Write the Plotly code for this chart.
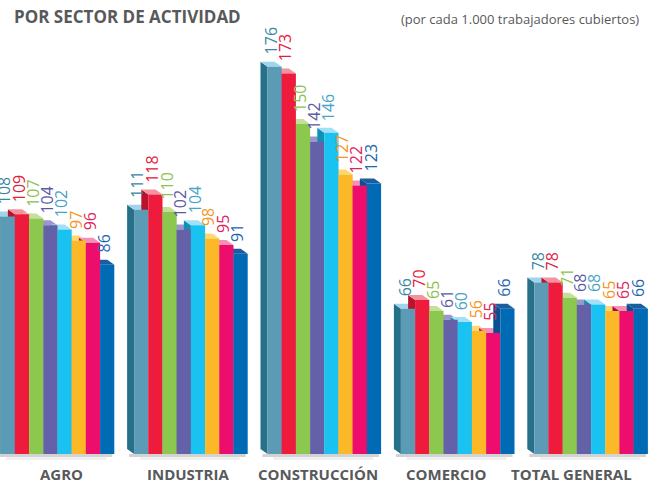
import plotly.graph_objects as go

# ---------------- data ----------------
categories = ["AGRO", "INDUSTRIA", "CONSTRUCCIÓN", "COMERCIO", "TOTAL GENERAL"]
serie_1 = [108, 111, 176, 66, 78]
serie_2 = [109, 118, 173, 70, 78]
serie_3 = [107, 110, 150, 65, 71]
serie_4 = [104, 102, 142, 61, 68]
serie_5 = [102, 104, 146, 60, 68]
serie_6 = [97, 98, 127, 56, 65]
serie_7 = [96, 95, 122, 55, 65]
serie_8 = [86, 91, 123, 66, 66]
series = [serie_1, serie_2, serie_3, serie_4, serie_5, serie_6, serie_7, serie_8]
series_names = ["Serie 1", "Serie 2", "Serie 3", "Serie 4", "Serie 5", "Serie 6", "Serie 7", "Serie 8"]

title_text = "<b>POR SECTOR DE ACTIVIDAD</b>"
subtitle_text = "(por cada 1.000 trabajadores cubiertos)"

# ---------------- styles ----------------
front_colors = ["#5b9bb5", "#ee1b3c", "#8cc84e", "#6561a8", "#19c2f1", "#fdb827", "#ec0d6d", "#006ab4"]
top_colors   = ["#9fd4ea", "#f4939f", "#c3e09a", "#9a97c9", "#a3e0f5", "#fdd870", "#f590b6", "#1c5d9f"]
side_colors  = ["#27708a", "#b8142e", "#6d9e3a", "#48457f", "#1190b6", "#c98f14", "#b00a52", "#0a4f91"]
label_colors = ["#3a87a3", "#e3203b", "#8dc24f", "#5c5aa5", "#4aa3c8", "#f7941d", "#e0245e", "#1e66b0"]

W, H = 654, 481
K = 2.2          # pixels per unit
B = 454          # baseline pixel row
yr = [(B - H) / K, B / K]

group_c0, group_step = 57.5, 133.4
bw = 14.2
dx = 7.0         # depth offset in px (x units == px)
dy = 5.0 / K     # depth offset in y units
label_x = [61, 188, 318, 446, 571]
FONT = "Open Sans"

fig = go.Figure()
shapes = []
annotations = []

n = len(series)
for i, cat in enumerate(categories):
    c = group_c0 + group_step * i
    gx0 = c - n / 2 * bw
    # shadow under the group
    shapes.append(dict(type="rect", xref="x", yref="y", layer="below",
                       x0=gx0 - dx + 2, x1=gx0 + n * bw - 2, y0=-3.0 / K, y1=0,
                       fillcolor="rgba(110,110,110,0.30)", line=dict(width=0)))
    shapes.append(dict(type="rect", xref="x", yref="y", layer="below",
                       x0=gx0 + 6, x1=gx0 + n * bw - 8, y0=-6.0 / K, y1=-3.0 / K,
                       fillcolor="rgba(150,150,150,0.15)", line=dict(width=0)))
    for j in range(n):
        v = series[j][i]
        x0 = gx0 + j * bw
        x1 = x0 + bw
        side = f"M {x0},0 L {x0},{v} L {x0-dx},{v+dy} L {x0-dx},{dy} Z"
        top = f"M {x0},{v} L {x1},{v} L {x1-dx},{v+dy} L {x0-dx},{v+dy} Z"
        shapes.append(dict(type="path", path=side, xref="x", yref="y", layer="below",
                           fillcolor=side_colors[j], line=dict(width=0)))
        shapes.append(dict(type="path", path=top, xref="x", yref="y", layer="below",
                           fillcolor=top_colors[j], line=dict(width=0)))
        annotations.append(dict(x=x0 + bw / 2 - dx / 2, y=v, xref="x", yref="y",
                                text=str(v), showarrow=False, textangle=-90,
                                xanchor="center", yanchor="bottom", yshift=11,
                                borderpad=0,
                                font=dict(family=FONT, size=16, color=label_colors[j])))

for j in range(n):
    xs = [group_c0 + group_step * i - n / 2 * bw + j * bw + bw / 2 for i in range(len(categories))]
    fig.add_trace(go.Bar(x=xs, y=series[j], width=bw, name=series_names[j],
                         marker=dict(color=front_colors[j], line=dict(width=0)),
                         hovertext=categories, showlegend=False))

for i, cat in enumerate(categories):
    annotations.append(dict(x=label_x[i], y=(B - 474) / K, xref="x", yref="y",
                            text=f"<b>{cat}</b>", showarrow=False,
                            xanchor="center", yanchor="middle",
                            font=dict(family=FONT, size=15, color="#58595b")))

annotations.append(dict(x=12 / W, y=1 - 17 / H, xref="paper", yref="paper",
                        text=title_text, showarrow=False, xanchor="left", yanchor="middle",
                        font=dict(family=FONT, size=17, color="#58595b")))
annotations.append(dict(x=641 / W, y=1 - 19 / H, xref="paper", yref="paper",
                        text=subtitle_text, showarrow=False, xanchor="right", yanchor="middle",
                        font=dict(family=FONT, size=13, color="#58595b")))

fig.update_layout(
    width=W, height=H,
    margin=dict(l=0, r=0, t=0, b=0),
    paper_bgcolor="white", plot_bgcolor="white",
    barmode="overlay",
    xaxis=dict(range=[0, W], visible=False, fixedrange=True),
    yaxis=dict(range=yr, visible=False, fixedrange=True),
    shapes=shapes,
    annotations=annotations,
    showlegend=False,
)

fig.write_html("out.html", config={"displayModeBar": False},
               post_script="document.body.style.margin='0';document.body.style.overflow='hidden';")
